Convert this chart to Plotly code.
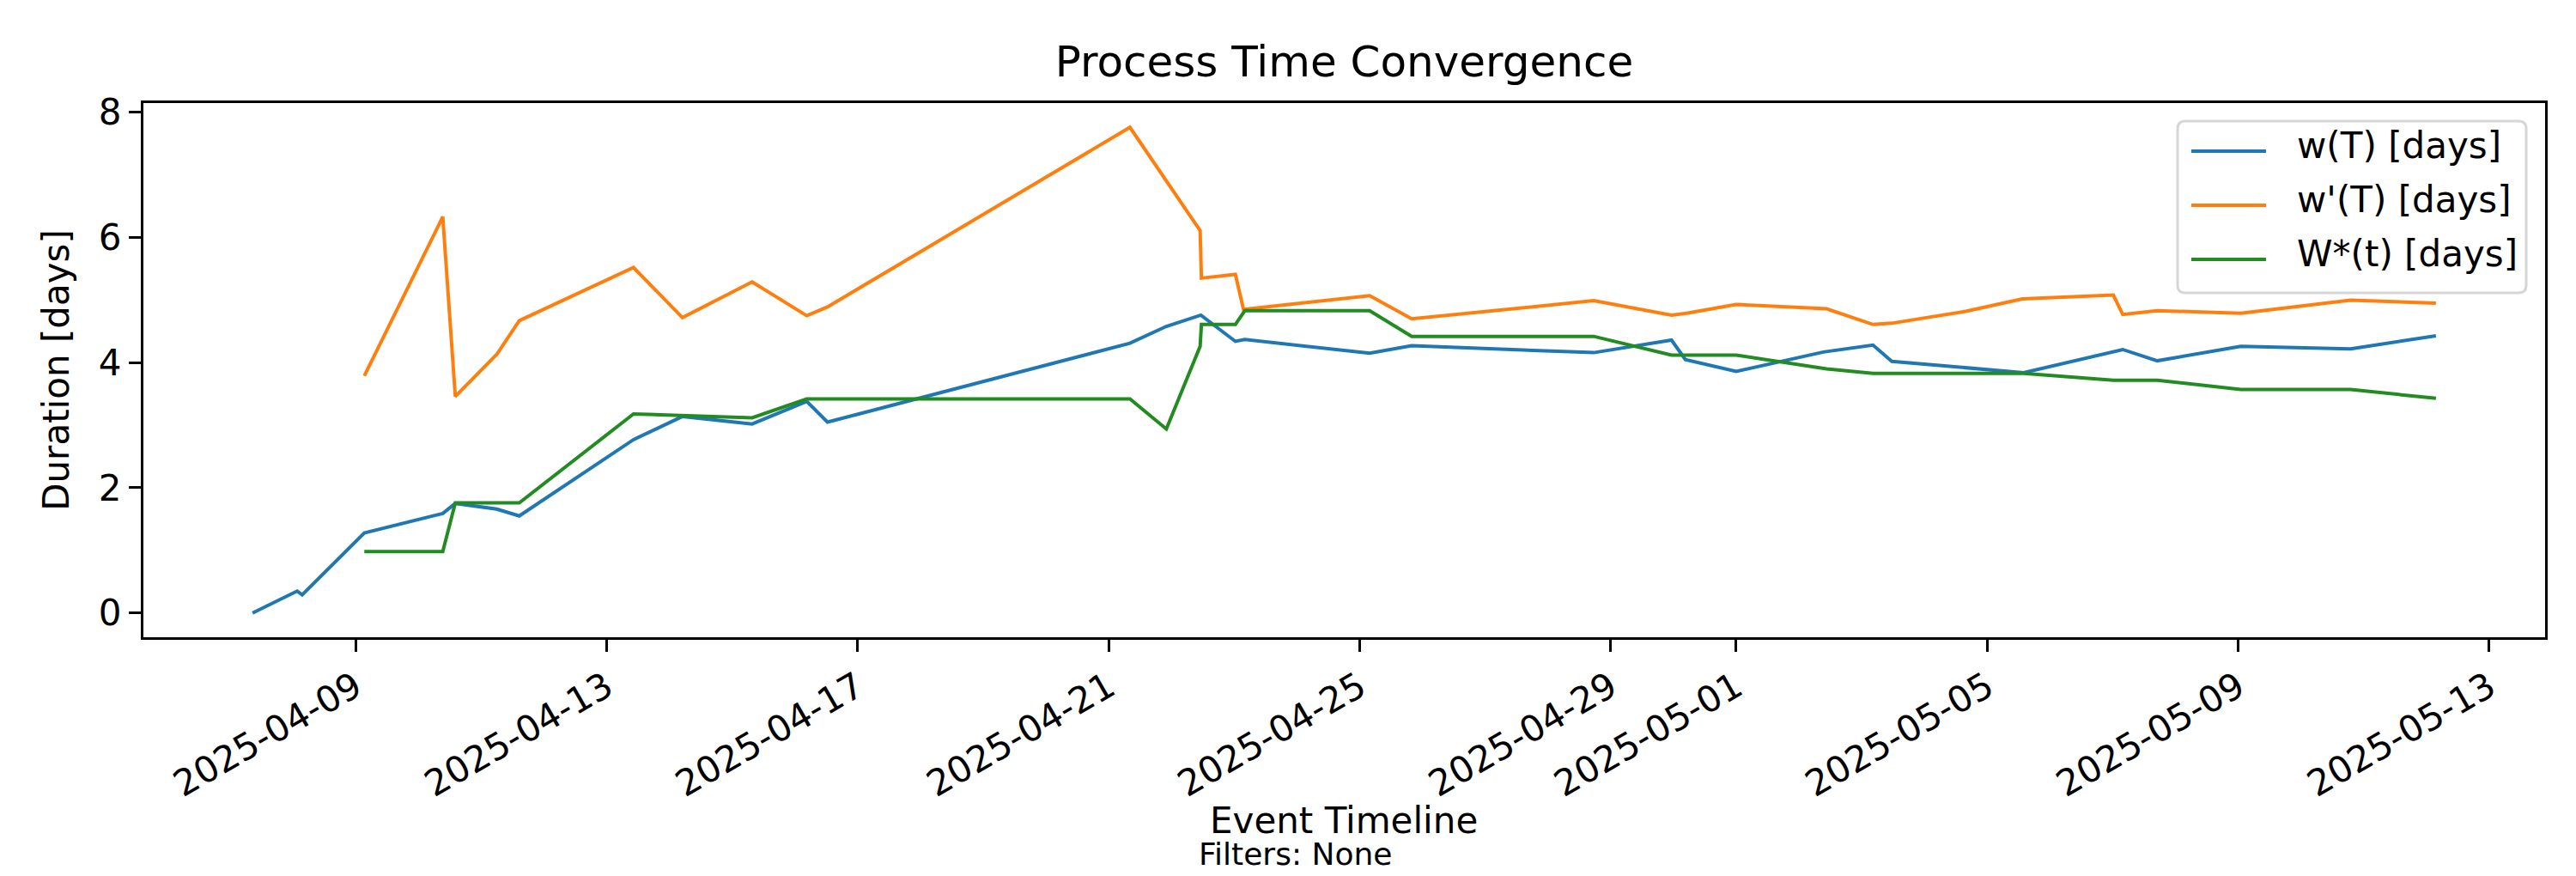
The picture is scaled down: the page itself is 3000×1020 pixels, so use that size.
import plotly.graph_objects as go

# event timestamps and values for each series
w_times = [
    "2025-04-07 08:38", "2025-04-08 01:41", "2025-04-08 03:36", "2025-04-09 03:22",
    "2025-04-10 09:22", "2025-04-10 14:10", "2025-04-11 06:00", "2025-04-11 14:38",
    "2025-04-13 10:19", "2025-04-14 05:02", "2025-04-15 07:41", "2025-04-16 04:34",
    "2025-04-16 12:29", "2025-04-21 08:10", "2025-04-21 22:05", "2025-04-22 11:17",
    "2025-04-23 00:29", "2025-04-23 04:05", "2025-04-25 03:50", "2025-04-25 19:55",
    "2025-04-28 17:31", "2025-04-29 23:17", "2025-04-30 04:34", "2025-05-01 00:00",
    "2025-05-02 09:22", "2025-05-03 04:19", "2025-05-03 11:31", "2025-05-05 13:55",
    "2025-05-07 03:50", "2025-05-07 17:02", "2025-05-09 00:58", "2025-05-10 18:58",
    "2025-05-12 03:36",
]
w_days = [
    0.00, 0.35, 0.29, 1.28, 1.59, 1.75, 1.66, 1.55, 2.77, 3.14, 3.02, 3.38, 3.05,
    4.31, 4.58, 4.76, 4.34, 4.37, 4.15, 4.27, 4.16, 4.36, 4.05, 3.86, 4.17, 4.28,
    4.02, 3.84, 4.21, 4.03, 4.26, 4.22, 4.43,
]

wp_times = [
    "2025-04-09 03:22", "2025-04-10 09:22", "2025-04-10 14:10", "2025-04-11 06:00",
    "2025-04-11 14:38", "2025-04-13 10:19", "2025-04-14 05:02", "2025-04-15 07:41",
    "2025-04-16 04:34", "2025-04-16 12:29", "2025-04-21 08:10", "2025-04-21 22:05",
    "2025-04-22 11:00", "2025-04-22 11:30", "2025-04-23 00:29", "2025-04-23 03:36",
    "2025-04-25 03:50", "2025-04-25 19:55", "2025-04-28 17:31", "2025-04-29 23:17",
    "2025-04-30 05:02", "2025-05-01 00:00", "2025-05-02 10:34", "2025-05-03 04:19",
    "2025-05-03 11:31", "2025-05-04 15:50", "2025-05-05 13:26", "2025-05-07 00:14",
    "2025-05-07 03:50", "2025-05-07 17:02", "2025-05-09 00:58", "2025-05-10 18:58",
    "2025-05-12 03:36",
]
wp_days = [
    3.79, 6.33, 3.46, 4.13, 4.67, 5.52, 4.72, 5.29, 4.75, 4.89, 7.76, 6.90, 6.11,
    5.35, 5.41, 4.85, 5.07, 4.70, 4.99, 4.76, 4.79, 4.93, 4.86, 4.61, 4.63, 4.82,
    5.02, 5.08, 4.77, 4.83, 4.79, 5.00, 4.95,
]

ws_times = [
    "2025-04-09 03:22", "2025-04-10 09:22", "2025-04-10 14:10", "2025-04-11 14:38",
    "2025-04-13 10:19", "2025-04-15 07:41", "2025-04-16 04:34", "2025-04-21 08:10",
    "2025-04-21 22:05", "2025-04-22 11:00", "2025-04-22 11:30", "2025-04-23 00:29",
    "2025-04-23 04:05", "2025-04-25 03:50", "2025-04-25 19:55", "2025-04-28 17:31",
    "2025-04-29 23:17", "2025-05-01 00:00", "2025-05-02 10:34", "2025-05-03 04:19",
    "2025-05-05 13:55", "2025-05-07 00:14", "2025-05-07 17:02", "2025-05-09 00:58",
    "2025-05-10 18:58", "2025-05-12 03:36",
]
ws_days = [
    0.98, 0.98, 1.76, 1.76, 3.18, 3.12, 3.42, 3.42, 2.94, 4.26, 4.61, 4.61, 4.83,
    4.83, 4.42, 4.42, 4.12, 4.12, 3.90, 3.83, 3.83, 3.72, 3.72, 3.57, 3.57, 3.43,
]

series_names = ["w(T) [days]", "w'(T) [days]", "W*(t) [days]"]
series_colors = ["#1f77b4", "#ff7f0e", "#228b22"]

tick_dates = [
    "2025-04-09", "2025-04-13", "2025-04-17", "2025-04-21", "2025-04-25",
    "2025-04-29", "2025-05-01", "2025-05-05", "2025-05-09", "2025-05-13",
]
y_ticks = [0, 2, 4, 6, 8]

W, H = 3000, 1020
L, R, T, B = 159, 44, 112, 286
PW, PH = W - L - R, H - T - B
FONT = "DejaVu Sans"
TXT_SHIFT = 7  # plotly centres text boxes a bit lower than the glyph caps


def px(x):
    return (x - L) / PW


def py(y):
    return 1 - (y - T) / PH


fig = go.Figure()
for times, vals, name, color in zip(
    [w_times, wp_times, ws_times], [w_days, wp_days, ws_days], series_names, series_colors
):
    fig.add_trace(go.Scatter(x=times, y=vals, mode="lines", name=name,
                             line=dict(color=color, width=4), showlegend=False))

# matplotlib-style legend box, drawn by hand so the spacing matches
x0, x1, y0, y1 = px(2528), px(2934), py(133), py(333)
rx, ry = 9 / PW, 9 / PH
path = (f"M {x0 + rx},{y0} L {x1 - rx},{y0} Q {x1},{y0} {x1},{y0 - ry} "
        f"L {x1},{y1 + ry} Q {x1},{y1} {x1 - rx},{y1} L {x0 + rx},{y1} "
        f"Q {x0},{y1} {x0},{y1 + ry} L {x0},{y0 - ry} Q {x0},{y0} {x0 + rx},{y0} Z")
fig.add_shape(type="path", path=path, xref="paper", yref="paper",
              line=dict(color="#d6d6d6", width=3), fillcolor="rgba(255,255,255,0.8)")
for i, (name, color) in enumerate(zip(series_names, series_colors)):
    row_y = 168 + i * 63
    fig.add_shape(type="line", xref="paper", yref="paper", x0=px(2544), x1=px(2631),
                  y0=py(row_y), y1=py(row_y), line=dict(color=color, width=4))
    fig.add_annotation(x=px(2665), y=py(row_y - TXT_SHIFT), xref="paper", yref="paper",
                       text=name, showarrow=False, xanchor="left", yanchor="middle",
                       font=dict(family=FONT, size=42, color="black"))

# x-axis title and the filter note under it
fig.add_annotation(x=px(1557), y=py(955 - TXT_SHIFT), xref="paper", yref="paper",
                   text="Event Timeline", showarrow=False, xanchor="center",
                   yanchor="middle", font=dict(family=FONT, size=42, color="black"))
fig.add_annotation(x=px(1500), y=py(993 - TXT_SHIFT), xref="paper", yref="paper",
                   text="Filters: None", showarrow=False, xanchor="center",
                   yanchor="middle", font=dict(family=FONT, size=36, color="black"))

axis_common = dict(
    showgrid=False, zeroline=False, showline=True, linecolor="black", linewidth=3,
    mirror=True, ticks="outside", ticklen=14, tickwidth=3, tickcolor="black",
    tickfont=dict(family=FONT, size=42, color="black"),
)

fig.update_layout(
    width=W, height=H,
    margin=dict(l=L, r=R, t=T, b=B),
    paper_bgcolor="white", plot_bgcolor="white",
    title=dict(text="Process Time Convergence", x=0.5, xref="paper",
               y=1 - (70 - TXT_SHIFT) / H, yanchor="middle",
               font=dict(family=FONT, size=50, color="black")),
    xaxis=dict(
        **axis_common, type="date",
        range=["2025-04-05 14:53", "2025-05-13 21:21"],
        tickvals=tick_dates, ticktext=tick_dates, tickangle=-30,
    ),
    yaxis=dict(
        **axis_common, range=[-0.388, 8.148], tickvals=y_ticks,
        title=dict(text="Duration [days]", standoff=22,
                   font=dict(family=FONT, size=42, color="black")),
    ),
)

fig.write_html("out.html")
